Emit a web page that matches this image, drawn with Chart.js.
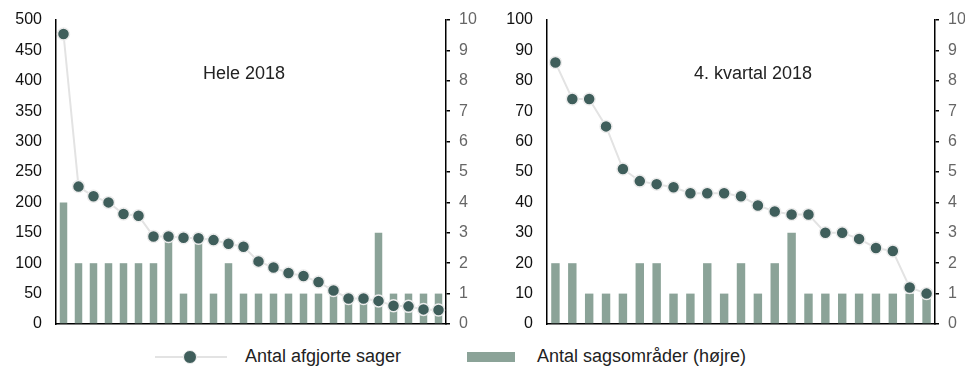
<!DOCTYPE html>
<html>
<head>
<meta charset="utf-8">
<script src="https://cdn.jsdelivr.net/npm/chart.js@4"></script>
<style>
  body { margin: 0; background: #fff; font-family: "Liberation Sans", Arial, sans-serif; }
  #wrap { position: relative; width: 965px; height: 367px; overflow: hidden; }
  .box { position: absolute; top: 0; height: 340px; }
  .ttl { position: absolute; font-size: 18px; color: #222; transform: translate(-50%, -50%); white-space: nowrap; }
  .leg { position: absolute; font-size: 18px; color: #222; white-space: nowrap; }
</style>
</head>
<body>
<div id="wrap">
  <div class="box" style="left:0;width:480px"><canvas id="c1"></canvas></div>
  <div class="box" style="left:480px;width:485px"><canvas id="c2"></canvas></div>
  <div class="ttl" style="left:244px;top:73px">Hele 2018</div>
  <div class="ttl" style="left:753px;top:73px">4. kvartal 2018</div>

  <div style="position:absolute;left:155px;top:356px;width:72px;height:2px;background:#e3e3e3"></div>
  <div style="position:absolute;left:183px;top:350px;width:12px;height:12px;border-radius:50%;background:#3f5e5b;border:1px solid #eee"></div>
  <div class="leg" style="left:245px;top:346px">Antal afgjorte sager</div>
  <div style="position:absolute;left:467px;top:352px;width:48px;height:10px;background:#8ba398"></div>
  <div class="leg" style="left:537px;top:346px">Antal sagsområder (højre)</div>
</div>
<script>
// Hele 2018
const sager2018 = [477, 226, 210, 200, 181, 178, 144, 144, 142, 141, 138, 132, 127, 103, 93, 84, 79, 69, 55, 42, 42, 38, 30, 29, 24, 23];
const omr2018 = [4, 2, 2, 2, 2, 2, 2, 3, 1, 3, 1, 2, 1, 1, 1, 1, 1, 1, 1, 1, 1, 3, 1, 1, 1, 1];
// 4. kvartal 2018
const sagerQ4 = [86, 74, 74, 65, 51, 47, 46, 45, 43, 43, 43, 42, 39, 37, 36, 36, 30, 30, 28, 25, 24, 12, 10];
const omrQ4 = [2, 2, 1, 1, 1, 2, 2, 1, 1, 2, 1, 2, 1, 2, 3, 1, 1, 1, 1, 1, 1, 1, 1];

const pointColor = '#3f5e5b';
const barColor = '#8ba398';
const font = { family: '"Liberation Sans", Arial, sans-serif', size: 16 };

function makeChart(id, sager, omr, leftMax, leftStep, leftW, rightW) {
  const labels = sager.map((v, i) => String(i + 1));
  return new Chart(document.getElementById(id), {
    data: {
      labels: labels,
      datasets: [{
        type: 'line',
        data: sager,
        yAxisID: 'y',
        order: 0,
        borderColor: '#e3e3e3',
        borderWidth: 2,
        tension: 0,
        pointRadius: 6,
        pointBackgroundColor: pointColor,
        pointBorderColor: '#ececec',
        pointBorderWidth: 1.5,
      }, {
        type: 'bar',
        data: omr,
        yAxisID: 'y1',
        order: 1,
        backgroundColor: barColor,
        barPercentage: 0.5,
        categoryPercentage: 1,
      }],
    },
    options: {
      responsive: true,
      maintainAspectRatio: false,
      animation: false,
      layout: { padding: { top: 20, bottom: 16, left: 0, right: 0 } },
      plugins: { legend: { display: false }, tooltip: { enabled: false } },
      scales: {
        x: {
          ticks: { display: false },
          grid: { display: false, drawTicks: false },
          border: { color: '#000', width: 1.5 },
          afterFit: s => { s.height = 0; },
        },
        y: {
          position: 'left',
          min: 0,
          max: leftMax,
          ticks: { stepSize: leftStep, color: '#111', font: font, padding: 14 },
          grid: { display: false, drawTicks: false },
          border: { color: '#000', width: 1.5 },
          afterFit: s => { s.width = leftW; s.paddingTop = 0; s.paddingBottom = 0; },
        },
        y1: {
          position: 'right',
          min: 0,
          max: 10,
          ticks: { stepSize: 1, color: '#666', font: font, padding: 9 },
          grid: { display: true, drawOnChartArea: false, tickLength: 4, color: '#000', lineWidth: 1.5 },
          border: { color: '#000', width: 1.5 },
          afterFit: s => { s.width = rightW; s.paddingTop = 0; s.paddingBottom = 0; },
        },
      },
    },
  });
}

makeChart('c1', sager2018, omr2018, 500, 50, 56, 34);
makeChart('c2', sagerQ4, omrQ4, 100, 10, 67, 30);
</script>
</body>
</html>
